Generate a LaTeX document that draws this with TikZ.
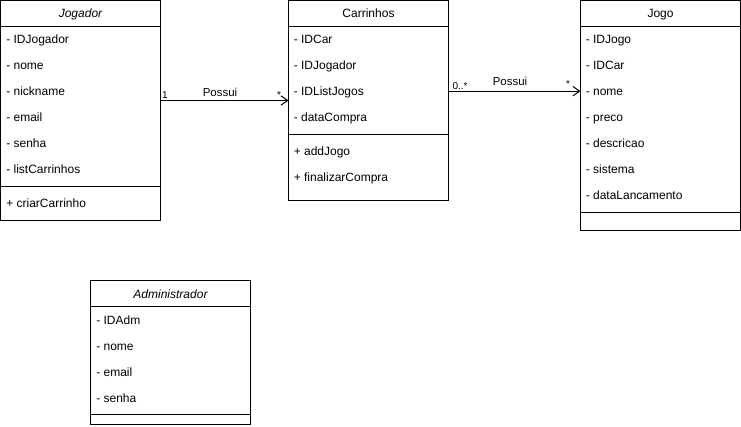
\documentclass[tikz,border=0pt]{standalone}
\usepackage{fontspec}
\setmainfont{Liberation Sans}
\usetikzlibrary{arrows.meta}
\begin{document}
\begin{tikzpicture}[x=0.75pt,y=-0.75pt, font=\fontsize{9}{11}\selectfont,
  classbox/.style={draw, line width=0.75pt, anchor=north west, inner sep=0pt, outer sep=0pt, minimum width=120pt},
  attr/.style={anchor=base west, inner sep=0pt},
  hdr/.style={anchor=base, inner sep=0pt},
  lbl/.style={inner sep=0pt, anchor=base, font=\fontsize{8.6}{10}\selectfont},
  mult/.style={inner sep=0pt, anchor=base, font=\fontsize{7.5}{9}\selectfont},
  sep/.style={line width=0.75pt},
  assoc/.style={line width=0.75pt, -{Straight Barb[length=5pt,width=7pt,line width=0.75pt]}}
]
\useasboundingbox (0,0) rectangle (741,427);

% Jogador
\node[classbox, minimum height=165pt] (jogador) at (0.5,0.5) {};
\node[hdr] (jogadorh) at (80.5,18) {\itshape Jogador};
\draw[sep] (0.5,26.5) -- (160.5,26.5);
\foreach \t [count=\i from 0] in {IDJogador,nome,nickname,email,senha,listCarrinhos}
  \node[attr] (ja\i) at (6,{44+26*\i}) {- \t};
\draw[sep] (0.5,186.5) -- (160.5,186.5);
\node[attr] (jm0) at (6,208) {+ criarCarrinho};

% Carrinhos
\node[classbox, minimum height=150pt] (carrinhos) at (288.5,0.5) {};
\node[hdr] (carrinhosh) at (368.5,18) {Carrinhos};
\draw[sep] (288.5,26.5) -- (448.5,26.5);
\foreach \t [count=\i from 0] in {IDCar,IDJogador,IDListJogos,dataCompra}
  \node[attr] (ca\i) at (293.5,{44+26*\i}) {- \t};
\draw[sep] (288.5,134.5) -- (448.5,134.5);
\foreach \t [count=\i from 0] in {addJogo,finalizarCompra}
  \node[attr] (cm\i) at (293.5,{156+26*\i}) {+ \t};

% Jogo
\node[classbox, minimum height=172.5pt] (jogo) at (580.5,0.5) {};
\node[hdr] (jogoh) at (660.5,18) {Jogo};
\draw[sep] (580.5,26.5) -- (740.5,26.5);
\foreach \t [count=\i from 0] in {IDJogo,IDCar,nome,preco,descricao,sistema,dataLancamento}
  \node[attr] (ga\i) at (585.5,{44+26*\i}) {- \t};
\draw[sep] (580.5,212.5) -- (740.5,212.5);

% Administrador
\node[classbox, minimum height=108pt] (admin) at (90.5,280.5) {};
\node[hdr] (adminh) at (170.5,298) {\itshape Administrador};
\draw[sep] (90.5,306.5) -- (250.5,306.5);
\foreach \t [count=\i from 0] in {IDAdm,nome,email,senha}
  \node[attr] (aa\i) at (96,{324+26*\i}) {- \t};
\draw[sep] (90.5,414.5) -- (250.5,414.5);

% Associations
\draw[assoc] (jogador.east |- carrinhos.west) -- (carrinhos.west);
\node[mult] (m1a) at (165,99) {1};
\node[lbl] (p1) at (220,97) {Possui};
\node[mult] (m1b) at (279,99) {*};

\coordinate (c2) at ([yshift=7pt]carrinhos.east);
\draw[assoc] (c2) -- (c2 -| jogo.west);
\node[mult] (m2a) at (460,90) {0..*};
\node[lbl] (p2) at (510,86) {Possui};
\node[mult] (m2b) at (568,88) {*};
\end{tikzpicture}
\end{document}
